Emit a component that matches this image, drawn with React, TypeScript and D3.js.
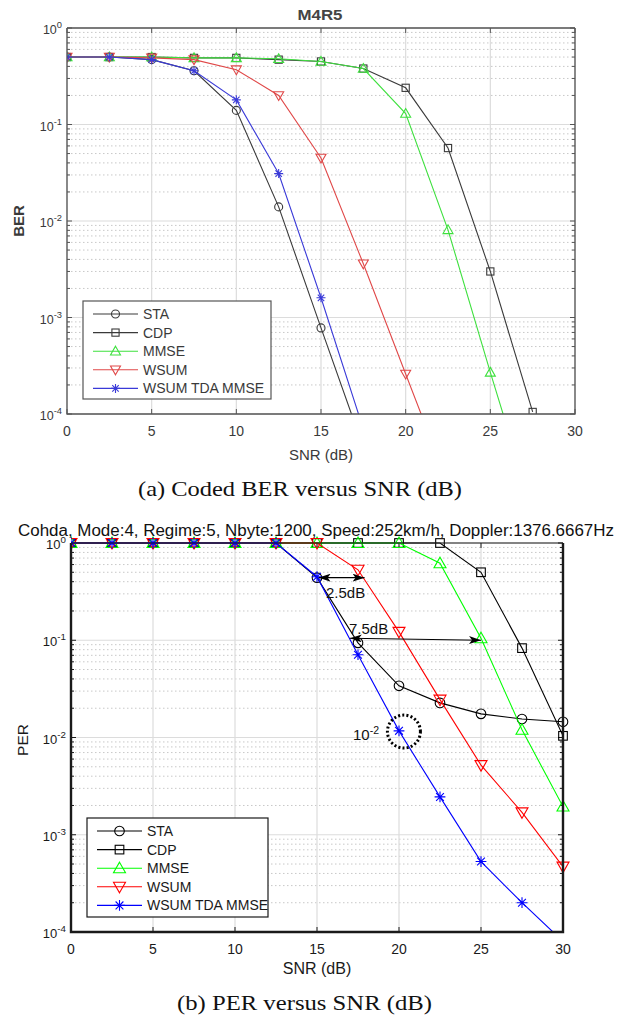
import React from "react";
import * as d3 from "d3";

const snr = [0, 2.5, 5, 7.5, 10, 12.5, 15, 17.5, 20, 22.5, 25, 27.5, 30];
const xTicks = [0, 5, 10, 15, 20, 25, 30];
const yExps = [0, -1, -2, -3, -4];
const seriesNames = ["STA", "CDP", "MMSE", "WSUM", "WSUM TDA MMSE"];
const markers = ["circle", "square", "triUp", "triDown", "star"];

// (a) Coded BER
const berSTA = [0.5, 0.5, 0.47, 0.36, 0.14, 0.014, 7.8e-4, 4.5e-5];
const berCDP = [0.5, 0.5, 0.5, 0.49, 0.49, 0.47, 0.45, 0.38, 0.24, 0.057, 3.0e-3, 1.05e-4];
const berMMSE = [0.5, 0.5, 0.5, 0.49, 0.49, 0.48, 0.45, 0.38, 0.13, 8.1e-3, 2.7e-4, 1e-5];
const berWSUM = [0.5, 0.5, 0.49, 0.47, 0.37, 0.2, 0.045, 3.6e-3, 2.6e-4, 1.9e-5];
const berTDA = [0.5, 0.5, 0.47, 0.36, 0.18, 0.031, 1.6e-3, 7e-5];

// (b) PER
const perSTA = [1, 1, 1, 1, 1, 1, 0.44, 0.094, 0.034, 0.0227, 0.0175, 0.0155, 0.0145];
const perCDP = [1, 1, 1, 1, 1, 1, 1, 1, 1, 1, 0.5, 0.083, 0.0104];
const perMMSE = [1, 1, 1, 1, 1, 1, 1, 1, 1, 0.62, 0.105, 0.012, 0.00195];
const perWSUM = [1, 1, 1, 1, 1, 1, 1, 0.53, 0.122, 0.0245, 0.0052, 0.0017, 0.00047];
const perTDA = [1, 1, 1, 1, 1, 1, 0.45, 0.071, 0.0117, 0.00245, 0.00053, 0.0002, 0.00008];

const topColors = ["#3a3a3a", "#3a3a3a", "#3ee03e", "#e04848", "#3a3ad8"];
const botColors = ["#000000", "#000000", "#00ff00", "#ff0000", "#0000ff"];

type Cfg = {
  id: string;
  left: number; right: number; top: number; bottom: number;
  data: number[][];
  colors: string[];
  axisColor: string;
  axisWidth: number;
  topWidth: number;
  textColor: string;
  xTickFs: number;
  yTickFs: number;
  legendFs: number;
  xLabelFs: number;
  markerScale: number;
  lineWidth: number;
  xLabelY: number;
  legend: { x: number; y: number; w: number; h: number; step: number };
};

function Marker({ kind, x, y, color, s, sw }: any) {
  if (kind === "circle") return <circle cx={x} cy={y} r={4 * s} fill="none" stroke={color} strokeWidth={sw} />;
  if (kind === "square") return <rect x={x - 3.6 * s} y={y - 3.6 * s} width={7.2 * s} height={7.2 * s} fill="none" stroke={color} strokeWidth={sw} />;
  if (kind === "triUp") {
    const r = 5 * s;
    return <path d={`M${x},${y - r}L${x + r},${y + r * 0.75}L${x - r},${y + r * 0.75}Z`} fill="none" stroke={color} strokeWidth={sw} />;
  }
  if (kind === "triDown") {
    const r = 5 * s;
    return <path d={`M${x},${y + r}L${x + r},${y - r * 0.75}L${x - r},${y - r * 0.75}Z`} fill="none" stroke={color} strokeWidth={sw} />;
  }
  const r = 4.5 * s;
  const d2 = r * 0.72;
  return (
    <path
      d={`M${x - r},${y}L${x + r},${y}M${x},${y - r}L${x},${y + r}M${x - d2},${y - d2}L${x + d2},${y + d2}M${x - d2},${y + d2}L${x + d2},${y - d2}`}
      stroke={color}
      strokeWidth={sw}
      fill="none"
    />
  );
}

function Chart({ cfg }: { cfg: Cfg }) {
  const x = d3.scaleLinear().domain([0, 30]).range([cfg.left, cfg.right]);
  const y = d3.scaleLog().domain([1e-4, 1]).range([cfg.bottom, cfg.top]);
  const line = d3.line<[number, number]>().x((d) => x(d[0])).y((d) => y(d[1]));
  const minors: number[] = [];
  for (let e = -4; e < 0; e++) for (let k = 2; k <= 9; k++) minors.push(k * Math.pow(10, e));
  return (
    <g fontFamily="Arial, 'Liberation Sans', sans-serif">
      <defs>
        <clipPath id={cfg.id + "clip"}>
          <rect x={cfg.left} y={cfg.top - 8} width={cfg.right - cfg.left + 8} height={cfg.bottom - cfg.top + 8} />
        </clipPath>
        <clipPath id={cfg.id + "clipL"}>
          <rect x={cfg.left} y={cfg.top - 1} width={cfg.right - cfg.left} height={cfg.bottom - cfg.top + 1} />
        </clipPath>
      </defs>
      <rect x={cfg.left} y={cfg.top} width={cfg.right - cfg.left} height={cfg.bottom - cfg.top} fill="#fff" />
      {minors.map((v, i) => (
        <line key={"mg" + i} x1={cfg.left} x2={cfg.right} y1={y(v)} y2={y(v)} stroke="#c8c8c8" strokeWidth={1} strokeDasharray="1.5,2.5" />
      ))}
      {yExps.map((e) => (
        <line key={"yg" + e} x1={cfg.left} x2={cfg.right} y1={y(Math.pow(10, e))} y2={y(Math.pow(10, e))} stroke="#dcdcdc" strokeWidth={1.2} />
      ))}
      {xTicks.map((t) => (
        <line key={"xg" + t} x1={x(t)} x2={x(t)} y1={cfg.top} y2={cfg.bottom} stroke="#dcdcdc" strokeWidth={1.2} />
      ))}
      {minors.map((v, i) => (
        <g key={"mt" + i} stroke={cfg.axisColor} strokeWidth={1}>
          <line x1={cfg.left} x2={cfg.left + 3} y1={y(v)} y2={y(v)} />
          <line x1={cfg.right} x2={cfg.right - 3} y1={y(v)} y2={y(v)} />
        </g>
      ))}
      {yExps.map((e) => (
        <g key={"yt" + e} stroke={cfg.axisColor} strokeWidth={1}>
          <line x1={cfg.left} x2={cfg.left + 5} y1={y(Math.pow(10, e))} y2={y(Math.pow(10, e))} />
          <line x1={cfg.right} x2={cfg.right - 5} y1={y(Math.pow(10, e))} y2={y(Math.pow(10, e))} />
        </g>
      ))}
      {xTicks.map((t) => (
        <g key={"xt" + t} stroke={cfg.axisColor} strokeWidth={1}>
          <line x1={x(t)} x2={x(t)} y1={cfg.bottom} y2={cfg.bottom - 5} />
          <line x1={x(t)} x2={x(t)} y1={cfg.top} y2={cfg.top + 5} />
        </g>
      ))}
      {cfg.data.map((vals, si) => {
        const pts = vals.map((v, i) => [snr[i], v] as [number, number]);
        return (
          <g key={"s" + si}>
            <path d={line(pts) || ""} fill="none" stroke={cfg.colors[si]} strokeWidth={cfg.lineWidth} clipPath={`url(#${cfg.id}clipL)`} />
            <g clipPath={`url(#${cfg.id}clip)`}>
              {pts
                .filter((p) => p[1] >= 0.99e-4)
                .map((p, i) => (
                  <Marker key={i} kind={markers[si]} x={x(p[0])} y={y(p[1])} color={cfg.colors[si]} s={cfg.markerScale} sw={cfg.lineWidth} />
                ))}
            </g>
          </g>
        );
      })}
      {/* frame */}
      <line x1={cfg.left} x2={cfg.right} y1={cfg.top} y2={cfg.top} stroke={cfg.axisColor} strokeWidth={cfg.topWidth} />
      <path
        d={`M${cfg.left},${cfg.top}V${cfg.bottom}H${cfg.right}V${cfg.top}`}
        fill="none"
        stroke={cfg.axisColor}
        strokeWidth={cfg.axisWidth}
      />
      {xTicks.map((t) => (
        <text key={"xl" + t} x={x(t)} y={cfg.bottom + 22} textAnchor="middle" fontSize={cfg.xTickFs} fill={cfg.textColor}>
          {t}
        </text>
      ))}
      {yExps.map((e) => (
        <text key={"yl" + e} x={cfg.left - 5} y={y(Math.pow(10, e)) + 6} textAnchor="end" fontSize={cfg.yTickFs} fill={cfg.textColor}>
          10
          <tspan dy={-6} fontSize={cfg.yTickFs * 0.75}>{e}</tspan>
        </text>
      ))}
      <text x={(cfg.left + cfg.right) / 2} y={cfg.xLabelY} textAnchor="middle" fontSize={cfg.xLabelFs} fill={cfg.textColor}>
        SNR (dB)
      </text>
      <rect x={cfg.legend.x} y={cfg.legend.y} width={cfg.legend.w} height={cfg.legend.h} fill="#fff" stroke={cfg.axisColor} strokeWidth={1.2} />
      {seriesNames.map((n, i) => {
        const ly = cfg.legend.y + 13 + i * cfg.legend.step;
        const lx = cfg.legend.x + 10;
        return (
          <g key={"lg" + i}>
            <line x1={lx} x2={lx + 45} y1={ly} y2={ly} stroke={cfg.colors[i]} strokeWidth={cfg.lineWidth} />
            <Marker kind={markers[i]} x={lx + 22.5} y={ly} color={cfg.colors[i]} s={cfg.markerScale} sw={cfg.lineWidth} />
            <text x={lx + 50} y={ly + 5} fontSize={cfg.legendFs} fill={cfg.textColor}>
              {n}
            </text>
          </g>
        );
      })}
    </g>
  );
}

const topCfg: Cfg = {
  id: "a",
  left: 67, right: 575, top: 28, bottom: 414,
  data: [berSTA, berCDP, berMMSE, berWSUM, berTDA],
  colors: topColors,
  axisColor: "#555555",
  axisWidth: 1.3,
  topWidth: 1.3,
  textColor: "#3a3a3a",
  xTickFs: 14,
  yTickFs: 12.5,
  legendFs: 14,
  xLabelFs: 15,
  markerScale: 1,
  lineWidth: 1.1,
  xLabelY: 460,
  legend: { x: 83, y: 301, w: 188, h: 98, step: 18.6 },
};

const botCfg: Cfg = {
  id: "b",
  left: 71, right: 563, top: 543, bottom: 932,
  data: [perSTA, perCDP, perMMSE, perWSUM, perTDA],
  colors: botColors,
  axisColor: "#1a1a1a",
  axisWidth: 2.4,
  topWidth: 1.1,
  textColor: "#1a1a1a",
  xTickFs: 14,
  yTickFs: 13,
  legendFs: 14,
  xLabelFs: 16,
  markerScale: 1.2,
  lineWidth: 1.1,
  xLabelY: 974,
  legend: { x: 87, y: 818, w: 181, h: 99, step: 18.6 },
};

export default function App() {
  const xb = d3.scaleLinear().domain([0, 30]).range([botCfg.left, botCfg.right]);
  const yb = d3.scaleLog().domain([1e-4, 1]).range([botCfg.bottom, botCfg.top]);
  return (
    <svg width={626} height={1017} style={{ position: "absolute", left: 0, top: 0 }}>
      <defs>
        <marker id="ah" viewBox="0 0 12 8" refX="12" refY="4" markerWidth="12" markerHeight="8" orient="auto-start-reverse" markerUnits="userSpaceOnUse">
          <path d="M0,0L12,4L0,8L3,4Z" fill="#000" />
        </marker>
      </defs>
      <rect width={626} height={1017} fill="#fff" />
      <text x={320} y={20} textAnchor="middle" fontSize={15} fontWeight="bold" fill="#444" fontFamily="Arial, sans-serif" textLength={45} lengthAdjust="spacingAndGlyphs">
        M4R5
      </text>
      <Chart cfg={topCfg} />
      <text transform="translate(24,221) rotate(-90)" textAnchor="middle" fontSize={15} fontWeight="bold" fill="#3a3a3a" fontFamily="Arial, sans-serif">
        BER
      </text>
      <text x={138} y={496} fontSize={22} fontFamily="'Liberation Serif', 'Times New Roman', serif" fill="#111" textLength={324} lengthAdjust="spacingAndGlyphs">
        (a) Coded BER versus SNR (dB)
      </text>

      <text x={18} y={536} fontSize={16} fontFamily="Arial, 'Liberation Sans', sans-serif" fill="#111" textLength={596} lengthAdjust="spacingAndGlyphs">
        Cohda, Mode:4, Regime:5, Nbyte:1200, Speed:252km/h, Doppler:1376.6667Hz
      </text>
      <Chart cfg={botCfg} />
      <text transform="translate(28,740) rotate(-90)" textAnchor="middle" fontSize={15.5} fill="#1a1a1a" fontFamily="Arial, sans-serif">
        PER
      </text>
      <line x1={xb(15.1)} y1={yb(0.44)} x2={xb(17.9)} y2={yb(0.44)} stroke="#000" strokeWidth={1.1} markerStart="url(#ah)" markerEnd="url(#ah)" />
      <text x={326} y={598} fontSize={15} fill="#111" fontFamily="Arial, sans-serif">2.5dB</text>
      <line x1={xb(17)} y1={yb(0.105)} x2={xb(25)} y2={yb(0.1)} stroke="#000" strokeWidth={1.1} markerStart="url(#ah)" markerEnd="url(#ah)" />
      <text x={349} y={634} fontSize={15} fill="#111" fontFamily="Arial, sans-serif">7.5dB</text>
      <text x={353} y={740} fontSize={15} fill="#111" fontFamily="Arial, sans-serif">
        10<tspan dy={-6} fontSize={10.5}>-2</tspan>
      </text>
      <circle cx={xb(20.3)} cy={yb(0.0115)} r={16.5} fill="none" stroke="#000" strokeWidth={3} strokeDasharray="2,2.2" />
      <text x={177} y={1010} fontSize={22} fontFamily="'Liberation Serif', 'Times New Roman', serif" fill="#111" textLength={255} lengthAdjust="spacingAndGlyphs">
        (b) PER versus SNR (dB)
      </text>
    </svg>
  );
}
